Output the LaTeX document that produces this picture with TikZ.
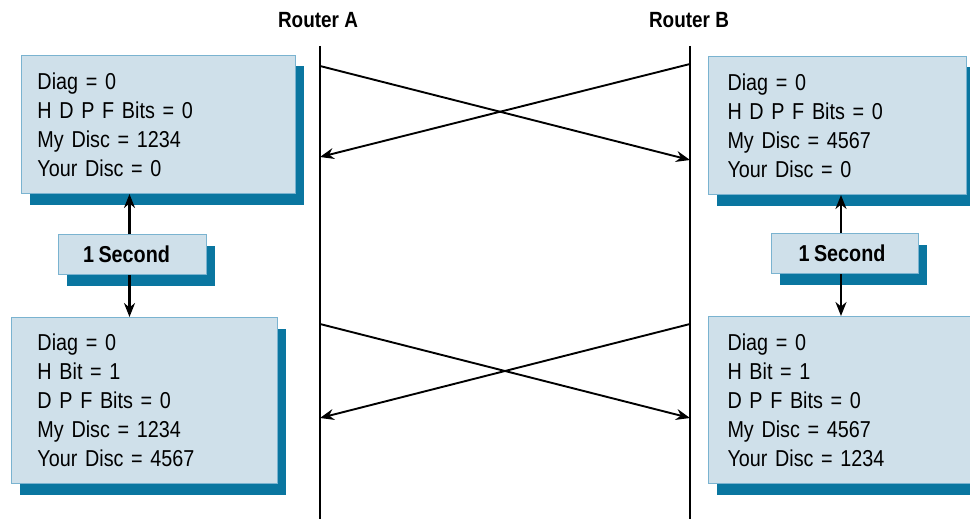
\documentclass[tikz,border=0pt]{standalone}
\usepackage{fontspec}
\setmainfont{Liberation Sans}[FakeStretch=0.86]
\usetikzlibrary{shadows,arrows.meta}
\definecolor{boxfill}{HTML}{CFE0EA}
\definecolor{boxline}{HTML}{7AB3D0}
\definecolor{shadowc}{HTML}{0A76A0}
\newcommand\myboxfont{\fontsize{23}{29}\selectfont\spaceskip=3.2pt\relax}
\newcommand\mysecfont{\fontsize{23}{26}\selectfont\bfseries\spaceskip=4.5pt\relax}
\tikzset{
  infobox/.style={draw=boxline, line width=1pt, fill=boxfill, anchor=north west,
    align=left, inner ysep=0pt,
    font=\myboxfont,
    drop shadow={shadow xshift=8pt, shadow yshift=-11pt, fill=shadowc, opacity=1}},
  secbox/.style={draw=boxline, line width=1pt, fill=boxfill, anchor=north west,
    align=center, inner sep=0pt, minimum height=40pt,
    font=\mysecfont,
    drop shadow={shadow xshift=8pt, shadow yshift=-11pt, fill=shadowc, opacity=1}},
  rlabel/.style={font=\fontsize{22}{24}\selectfont\bfseries},
  rline/.style={line width=1.8pt, black},
  msg/.style={line width=1.9pt, black, -{Stealth[length=14pt,width=11pt]}},
  vmsg/.style={msg, line width=2.2pt},
}
\begin{document}
\begin{tikzpicture}[x=1pt,y=-1pt]
\clip (0,0) rectangle (970,519);
\fill[white] (0,0) rectangle (970,519);

% Router labels and lines
\node[rlabel] (ra) at (318,20) {Router A};
\node[rlabel] (rb) at (689,20) {Router B};
\coordinate (Atop) at (320,46);
\coordinate (Abot) at (320,519);
\coordinate (Btop) at (690,46);
\coordinate (Bbot) at (690,519);
\draw[rline] (Atop) -- (Abot);
\draw[rline] (Btop) -- (Bbot);

% left boxes
\node[infobox, inner xsep=16pt, text width=242pt, minimum height=138pt] (tl) at (21,55)
  {Diag = 0\\H D P F Bits = 0\\My Disc = 1234\\Your Disc = 0};
\node[secbox, minimum width=148pt] (sl) at (58,234) {1 Second\hspace*{12pt}};
\node[infobox, inner xsep=26pt, text width=214pt, minimum height=166pt] (bl) at (11,317)
  {Diag = 0\\H Bit = 1\\D P F Bits = 0\\My Disc = 1234\\Your Disc = 4567};

% right boxes
\node[infobox, inner xsep=19pt, text width=220pt, minimum height=138pt] (tr) at (708,56)
  {Diag = 0\\H D P F Bits = 0\\My Disc = 4567\\Your Disc = 0};
\node[secbox, minimum width=147pt] (sr) at (771,233) {1 Second\hspace*{6pt}};
\node[infobox, inner xsep=19pt, text width=242pt, minimum height=167pt] (br) at (708,316)
  {Diag = 0\\H Bit = 1\\D P F Bits = 0\\My Disc = 4567\\Your Disc = 1234};

% vertical arrows
\draw[vmsg] ([xshift=-3pt]sl.north) -- ([xshift=-3pt]sl.north |- tl.south);
\draw[vmsg] ([xshift=-3pt]sl.south) -- ([xshift=-3pt]sl.south |- bl.north);
\draw[vmsg] ([xshift=-4pt]sr.north) -- ([xshift=-4pt]sr.north |- tr.south);
\draw[vmsg] ([xshift=-4pt]sr.south) -- ([xshift=-4pt]sr.south |- br.north);

% message points
\coordinate (a1) at (320,66);
\coordinate (b1) at (690,160);
\coordinate (b2) at (690,64);
\coordinate (a2) at (320,157);
\coordinate (a3) at (320,324);
\coordinate (b3) at (690,418);
\coordinate (b4) at (690,324);
\coordinate (a4) at (320,418);
\draw[msg] (a1) -- (b1);
\draw[msg] (b2) -- (a2);
\draw[msg] (a3) -- (b3);
\draw[msg] (b4) -- (a4);
\end{tikzpicture}
\end{document}
